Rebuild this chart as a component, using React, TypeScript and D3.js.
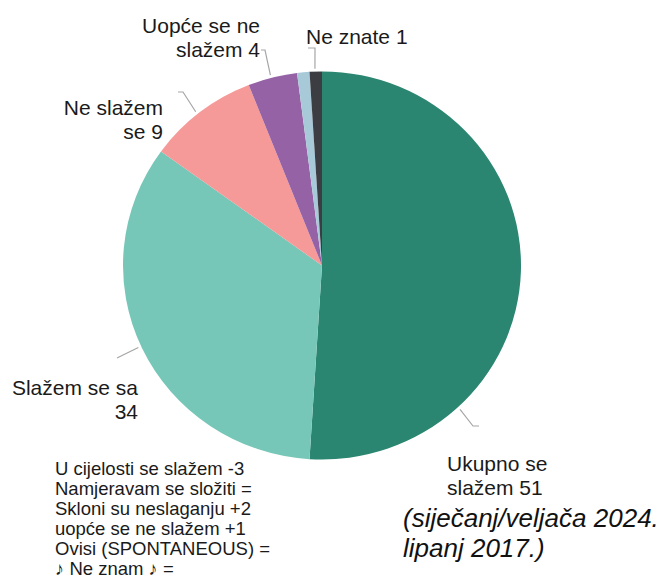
import React from "react";
import * as d3 from "d3";

const categories = ["Ukupno se slažem", "Slažem se sa", "Ne slažem se", "Uopće se ne slažem", "Ovisi", "Ne znate"];
const values = [51, 34, 9, 4, 1, 1];
const colors = ["#2a8671", "#77c7b8", "#f59a98", "#9562a6", "#a8cad8", "#3b3d42"];
const showLabel = [true, true, true, true, false, true];
const noteLines = [
  "U cijelosti se slažem -3",
  "Namjeravam se složiti =",
  "Skloni su neslaganju +2",
  "uopće se ne slažem +1",
  "Ovisi (SPONTANEOUS) =",
  "\u266A Ne znam \u266A =",
];
const subtitleLines = ["(siječanj/veljača 2024.", "lipanj 2017.)"];

// layout
const W = 665, H = 583;
const cx = 322, cy = 265.5, R = 199, yScale = 0.975;
// label layout per slice: words on first line, anchor, x, first baseline
const labelLayout = [
  { words: 2, anchor: "start", x: 447, y: 471, leaderAngle: 136.9, elbow: [473, 426], tail: [479, 426] },
  { words: 3, anchor: "end", x: 138, y: 395, leaderAngle: 245.4, elbow: [117, 358], tail: [117, 358] },
  { words: 2, anchor: "end", x: 163, y: 115, leaderAngle: 321.3, elbow: [183, 92], tail: [178, 92] },
  { words: 3, anchor: "end", x: 260, y: 33, leaderAngle: 345.2, elbow: [265, 50], tail: [261, 50] },
  null,
  { words: 9, anchor: "start", x: 306, y: 44, leaderAngle: 358, elbow: [315, 48], tail: [308, 48] },
];

export default function App() {
  const data = categories.map((c, i) => ({ c, v: values[i], i }));
  const pie = d3.pie<any>().value((d) => d.v).sort(null);
  const arcs = pie(data);
  const arc = d3.arc<any>().innerRadius(0).outerRadius(R);
  const font = "'Liberation Sans', Arial, sans-serif";

  return (
    <svg width={W} height={H} style={{ position: "absolute", left: 0, top: 0, background: "#fff" }} fontFamily={font}>
      <g transform={`translate(${cx},${cy}) scale(1,${yScale})`}>
        {arcs.map((a, i) => (
          <path key={i} d={arc(a) as string} fill={colors[i]} stroke="none" />
        ))}
      </g>
      {arcs.map((a, i) => {
        const L = labelLayout[i];
        if (!showLabel[i] || !L) return null;
        const ang = (L.leaderAngle * Math.PI) / 180;
        const rr = R + 3;
        const sx = cx + Math.sin(ang) * rr;
        const sy = cy - Math.cos(ang) * rr * yScale;
        const words = categories[i].split(" ");
        const full = [...words, String(values[i])];
        const l1 = full.slice(0, L.words).join(" ");
        const l2 = full.slice(L.words).join(" ");
        const lines = l2 ? [l1, l2] : [l1];
        return (
          <g key={"l" + i}>
            <polyline
              points={`${sx},${sy} ${L.elbow[0]},${L.elbow[1]} ${L.tail[0]},${L.tail[1]}`}
              fill="none"
              stroke="#a6a6a6"
              strokeWidth={1.2}
            />
            {lines.map((t, j) => (
              <text key={j} x={L.x} y={L.y + j * 24} textAnchor={L.anchor as any} fontSize={21} fill="#1a1a1a">
                {t}
              </text>
            ))}
          </g>
        );
      })}
      {noteLines.map((t, j) => (
        <text key={"n" + j} x={55} y={475 + j * 20} fontSize={18.5} fill="#1a1a1a">
          {t}
        </text>
      ))}
      {subtitleLines.map((t, j) => (
        <text key={"s" + j} x={403} y={527 + j * 30} fontSize={26} fontStyle="italic" fill="#111">
          {t}
        </text>
      ))}
    </svg>
  );
}
